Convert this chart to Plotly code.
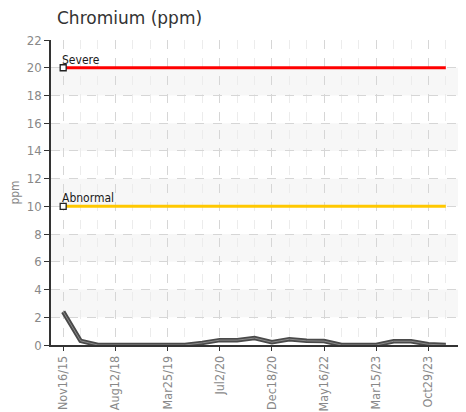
import plotly.graph_objects as go

tick_labels = ["Nov16/15", "Aug12/18", "Mar25/19", "Jul2/20",
               "Dec18/20", "May16/22", "Mar15/23", "Oct29/23"]
tick_index = [0, 3, 6, 9, 12, 15, 18, 21]
chromium = [2.4, 0.3, 0.0, 0.0, 0.0, 0.0, 0.0, 0.0, 0.15, 0.35, 0.35, 0.5,
            0.2, 0.42, 0.3, 0.28, 0.0, 0.0, 0.0, 0.27, 0.27, 0.05, 0.0]
severe_limit = 20
abnormal_limit = 10

n = len(chromium)
xs = list(range(n))

COND = "DejaVu Sans Condensed, Liberation Sans Narrow, DejaVu Sans"
OFF = 8  # page body offset compensation

fig = go.Figure()

# shaded bands
for lo in [2, 6, 10, 14, 18]:
    fig.add_hrect(y0=lo, y1=lo + 2, fillcolor="#f7f7f7", line_width=0, layer="below")

for limit, color, label in [(severe_limit, "#ff0000", "Severe"),
                            (abnormal_limit, "#ffc800", "Abnormal")]:
    fig.add_trace(go.Scatter(x=xs, y=[limit] * n, mode="lines",
                             line=dict(color=color, width=3), hoverinfo="skip",
                             showlegend=False))
    fig.add_trace(go.Scatter(x=xs[:1], y=[limit], mode="markers",
                             marker=dict(symbol="square", size=6, color="white",
                                         line=dict(color="#222", width=1.3)),
                             showlegend=False, cliponaxis=False))
    fig.add_annotation(x=xs[0], y=limit, text=label, showarrow=False,
                       xanchor="left", yanchor="bottom", xshift=-3, yshift=-1,
                       font=dict(family=COND, size=12, color="#1a1a1a"))

fig.add_trace(go.Scatter(x=xs, y=chromium, mode="lines",
                         line=dict(color="#4a4a4a", width=4.5), showlegend=False))
fig.add_trace(go.Scatter(x=xs, y=chromium, mode="lines",
                         line=dict(color="#8a8a8a", width=1), showlegend=False))

tick_font = dict(family=COND, size=13, color="#888")

W, H = 466, 412
fig.update_layout(
    width=W, height=H,
    margin=dict(l=51 - OFF, r=W - 458 + OFF, t=40 - OFF, b=H - 345 + OFF, autoexpand=False),
    paper_bgcolor="white", plot_bgcolor="white",
    title=dict(text="Chromium (ppm)", xref="container", yref="container",
               x=(57 - OFF) / W, xanchor="left", y=1 - (18 - OFF) / H, yanchor="middle",
               font=dict(family="DejaVu Sans", size=17, color="#333")),
    xaxis=dict(range=[-0.7, n - 1 + 0.7], tickmode="array", tickvals=tick_index,
               ticktext=tick_labels, tickangle=-90, tickfont=dict(tick_font, size=12.5),
               automargin=False,
               showgrid=True, gridcolor="#d6d6d6", griddash="dash", gridwidth=1,
               minor=dict(tickmode="linear", dtick=1, tick0=0, showgrid=True,
                          gridcolor="#ececec", griddash="dash", gridwidth=1),
               showline=True, linecolor="#333", linewidth=1.5,
               ticks="outside", ticklen=4, tickcolor="#333", zeroline=False),
    yaxis=dict(range=[0, 22], dtick=2, tickfont=tick_font, automargin=False,
               showgrid=True, gridcolor="#d6d6d6", griddash="dash", gridwidth=1,
               showline=True, linecolor="#333", linewidth=1.5,
               ticks="outside", ticklen=5, tickcolor="#333", zeroline=False,
               title=dict(text="ppm", standoff=9,
                          font=dict(family=COND, size=12, color="#888"))),
)

fig.write_html("out.html")
